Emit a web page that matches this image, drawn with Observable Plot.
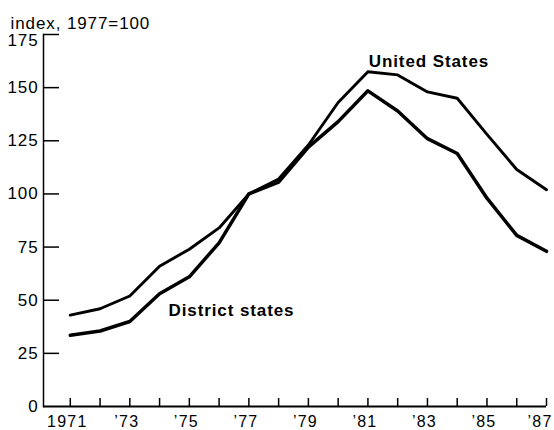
<!DOCTYPE html>
<html>
<head>
<meta charset="utf-8">
<script src="https://cdn.jsdelivr.net/npm/d3@7"></script>
<script src="https://cdn.jsdelivr.net/npm/@observablehq/plot@0.6"></script>
<style>
  html, body { margin: 0; padding: 0; background: #fff; }
  #chart svg { display: block; }
  #chart svg g[aria-label="x-axis tick label"] { font-size: 16px; letter-spacing: 1.2px; }
</style>
</head>
<body>
<div id="chart"></div>
<script>
const years = [1971,1972,1973,1974,1975,1976,1977,1978,1979,1980,1981,1982,1983,1984,1985,1986,1987];
const unitedStates = [43,46,52,66,74,84,100,107,123,143,157.5,156,148,145,128,111.5,102];
const districtStates = [33.5,35.5,40,53,61,77,100,105.5,122,134,148.5,139,126,119,98,80.5,73];
const yTicks = [0,25,50,75,100,125,150,175];
const xTickLabels = {1971:"1971",1973:"’73",1975:"’75",1977:"’77",1979:"’79",1981:"’81",1983:"’83",1985:"’85",1987:"’87"};
const titleText = "index, 1977=100";
const seriesNames = ["United States","District states"];

const rows = [];
years.forEach((yr,i)=>{
  rows.push({year: yr, value: unitedStates[i], series: seriesNames[0]});
  rows.push({year: yr, value: districtStates[i], series: seriesNames[1]});
});

const W = 554, H = 430, mL = 43, mR = 8, mT = 34, mB = 24;
const frameW = W - mL - mR, frameH = H - mT - mB;
const font = "'Liberation Sans', Arial, Helvetica, sans-serif";
const topTick = yTicks[yTicks.length - 1];
const lastYear = years[years.length - 1];

const chart = Plot.plot({
  width: W,
  height: H,
  marginLeft: mL,
  marginRight: mR,
  marginTop: mT,
  marginBottom: mB,
  style: {fontFamily: font, fontSize: "17px", color: "#000", background: "#fff", letterSpacing: "0.9px"},
  x: {domain: [1970.1, 1987]},
  y: {domain: [0, 175]},
  marks: [
    Plot.frame({anchor: "left", stroke: "#000", strokeWidth: 1.5}),
    Plot.ruleY([0], {stroke: "#000", strokeWidth: 2}),
    Plot.tickY(yTicks.filter(d => d > 0), {y: d => d, stroke: "#000", strokeWidth: 1.5, insetRight: frameW - 16}),
    Plot.tickX(years, {x: d => d, stroke: "#000", strokeWidth: 1.5, insetTop: frameH - 8}),
    Plot.axisY(yTicks.filter(d => d < topTick), {tickSize: 0, tickPadding: 5, label: null, tickFormat: d => String(d)}),
    Plot.axisY([topTick], {tickSize: 0, tickPadding: 5, label: null, dy: 6, tickFormat: d => String(d)}),
    Plot.axisX(years.filter(d => d < lastYear), {tickSize: 0, tickPadding: 9, dx: -3, fontSize: 16, label: null, tickFormat: d => xTickLabels[d] ?? ""}),
    Plot.axisX([lastYear], {tickSize: 0, tickPadding: 9, dx: 6, fontSize: 16, textAnchor: "end", label: null, tickFormat: d => xTickLabels[d] ?? ""}),
    Plot.line(rows.filter(d => d.series === seriesNames[0]), {x: "year", y: "value", stroke: "#000", strokeWidth: 2.9, strokeLinejoin: "round"}),
    Plot.line(rows.filter(d => d.series === seriesNames[1]), {x: "year", y: "value", stroke: "#000", strokeWidth: 3.5, strokeLinejoin: "round"}),
    Plot.text([seriesNames[0]], {x: 1983.05, y: 159.7, text: d => d, textAnchor: "middle", lineAnchor: "bottom", fontWeight: "bold", fontSize: 17, fill: "#000"}),
    Plot.text([seriesNames[1]], {x: 1974.3, y: 42.8, text: d => d, textAnchor: "start", lineAnchor: "bottom", fontWeight: "bold", fontSize: 17, fill: "#000"}),
    Plot.text([titleText], {frameAnchor: "top-left", dx: -33, dy: -5.5, text: d => d, textAnchor: "start", lineAnchor: "bottom", fontSize: 17, fill: "#000"})
  ]
});
document.getElementById("chart").appendChild(chart);
</script>
</body>
</html>
